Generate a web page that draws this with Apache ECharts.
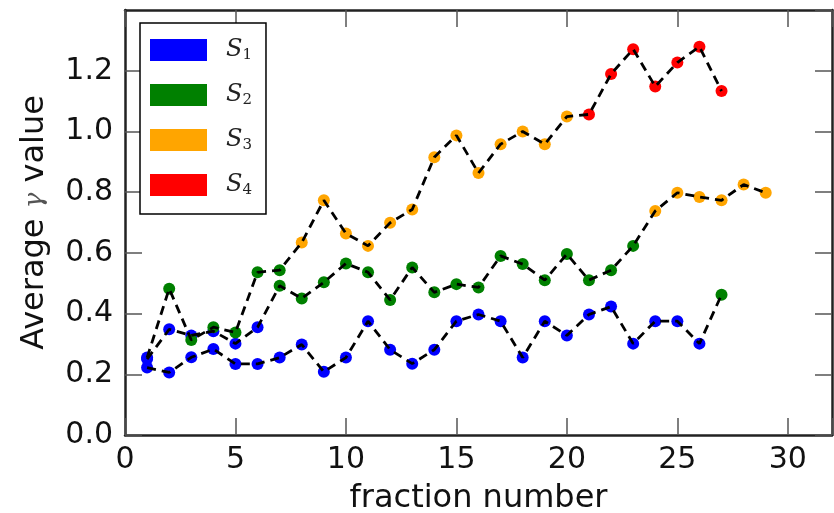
<!DOCTYPE html>
<html>
<head>
<meta charset="utf-8">
<script src="https://cdn.jsdelivr.net/npm/echarts@6/dist/echarts.min.js"></script>
<style>
  html, body { margin: 0; padding: 0; background: #fff; }
  #chart { width: 834px; height: 513px; }
</style>
</head>
<body>
<div id="chart"></div>
<script>
// fraction numbers along x
const fractions = [1, 2, 3, 4, 5, 6, 7, 8, 9, 10, 11, 12, 13, 14, 15, 16, 17, 18, 19, 20, 21, 22, 23, 24, 25, 26, 27, 28, 29];

// three runs, average gamma per fraction
const topRun = [0.255, 0.482, 0.313, 0.355, 0.338, 0.536, 0.543, 0.634, 0.773, 0.664, 0.623, 0.699, 0.743, 0.915, 0.987, 0.863, 0.958, 1.000, 0.958, 1.049, 1.056, 1.189, 1.271, 1.148, 1.227, 1.279, 1.133];
const midRun = [0.250, 0.348, 0.328, 0.342, 0.301, 0.355, 0.492, 0.450, 0.503, 0.565, 0.536, 0.445, 0.552, 0.470, 0.497, 0.486, 0.590, 0.563, 0.510, 0.596, 0.510, 0.543, 0.623, 0.738, 0.798, 0.784, 0.773, 0.825, 0.798];
const lowRun = [0.222, 0.206, 0.256, 0.283, 0.234, 0.234, 0.255, 0.298, 0.208, 0.255, 0.375, 0.281, 0.235, 0.281, 0.375, 0.397, 0.375, 0.255, 0.375, 0.328, 0.397, 0.423, 0.301, 0.375, 0.375, 0.301, 0.462];

// state (S1..S4) of every point
const topStates = [1, 2, 2, 2, 2, 2, 2, 3, 3, 3, 3, 3, 3, 3, 3, 3, 3, 3, 3, 3, 4, 4, 4, 4, 4, 4, 4];
const midStates = [1, 1, 1, 1, 1, 1, 2, 2, 2, 2, 2, 2, 2, 2, 2, 2, 2, 2, 2, 2, 2, 2, 2, 3, 3, 3, 3, 3, 3];
const lowStates = [1, 1, 1, 1, 1, 1, 1, 1, 1, 1, 1, 1, 1, 1, 1, 1, 1, 1, 1, 1, 1, 1, 1, 1, 1, 1, 2];

const stateNames = ["S1", "S2", "S3", "S4"];
const stateColors = ["#0000ff", "#008000", "#ffa500", "#ff0000"];

const xTicks = [0, 5, 10, 15, 20, 25, 30];

let chart = echarts.init(document.getElementById("chart"));

function toPoints(run) {
  return run.map((v, i) => [fractions[i], v]);
}

// group every point by its state
let runs = [[topRun, topStates], [midRun, midStates], [lowRun, lowStates]];
let scatterSeries = stateNames.map((name, k) => {
  let data = [];
  runs.forEach(([vals, states]) => {
    vals.forEach((v, i) => {
      if (states[i] === k + 1) data.push([fractions[i], v]);
    });
  });
  return {
    name: name,
    type: "scatter",
    data: data,
    symbolSize: 12,
    color: stateColors[k],
    itemStyle: { opacity: 1 },
    z: 2
  };
});

let lineSeries = [topRun, midRun, lowRun].map(run => ({
  type: "line",
  data: toPoints(run),
  showSymbol: false,
  symbol: "none",
  lineStyle: { color: "#000", width: 2.8, type: [9, 6] },
  z: 3,
  silent: true
}));

let tickStyle = { show: true, inside: true, length: 17, lineStyle: { color: "#555", width: 1.5 } };
let lineStyle = { show: true, onZero: false, lineStyle: { color: "#222", width: 2.5 } };

let option = {
  animation: false,
  backgroundColor: "#fff",
  grid: { left: 125, right: 2, top: 10, bottom: 78, outerBoundsMode: "none", containLabel: false },
  legend: {
    left: 140,
    top: 23,
    orient: "vertical",
    data: stateNames,
    icon: "rect",
    itemWidth: 57,
    itemHeight: 22,
    itemGap: 19,
    padding: [14, 14, 16, 10],
    borderColor: "#000",
    borderWidth: 1.5,
    backgroundColor: "#fff",
    formatter: name => "{s|S}{sub|" + name.slice(1) + "}",
    textStyle: {
      padding: [0, 0, 0, 14],
      rich: {
        s: { fontFamily: "DejaVu Serif", fontStyle: "italic", fontSize: 24, color: "#222", lineHeight: 22 },
        sub: { fontFamily: "DejaVu Serif", fontSize: 15, color: "#222", lineHeight: 22, padding: [11, 0, 0, 0] }
      }
    }
  },
  xAxis: [
    {
      type: "value",
      min: 0,
      max: 32,
      interval: 5,
      name: "fraction number",
      nameLocation: "middle",
      nameGap: 48,
      nameTextStyle: { fontFamily: "DejaVu Sans", fontSize: 32, color: "#111" },
      axisLine: lineStyle,
      axisTick: tickStyle,
      splitLine: { show: false },
      axisLabel: {
        fontFamily: "DejaVu Sans",
        fontSize: 30,
        color: "#111",
        margin: 10,
        formatter: v => (xTicks.indexOf(v) >= 0 ? String(v) : "")
      }
    },
    {
      type: "value",
      position: "top",
      min: 0,
      max: 32,
      interval: 5,
      axisLine: lineStyle,
      axisTick: tickStyle,
      axisLabel: { show: false },
      splitLine: { show: false }
    }
  ],
  yAxis: [
    {
      type: "value",
      min: 0,
      max: 1.4,
      interval: 0.2,
      name: "{a|Average }{g|γ}{a| value}",
      nameLocation: "middle",
      nameGap: 74,
      nameTextStyle: {
        rich: {
          a: { fontFamily: "DejaVu Sans", fontSize: 32, color: "#111" },
          g: { fontFamily: "DejaVu Serif", fontStyle: "italic", fontSize: 26, color: "#555" }
        }
      },
      axisLine: lineStyle,
      axisTick: tickStyle,
      splitLine: { show: false },
      axisLabel: {
        fontFamily: "DejaVu Sans",
        fontSize: 30,
        color: "#111",
        margin: 12,
        showMaxLabel: false,
        formatter: v => v.toFixed(1)
      }
    },
    {
      type: "value",
      position: "right",
      min: 0,
      max: 1.4,
      interval: 0.2,
      axisLine: lineStyle,
      axisTick: tickStyle,
      axisLabel: { show: false },
      splitLine: { show: false }
    }
  ],
  series: scatterSeries.concat(lineSeries)
};

chart.setOption(option);
</script>
</body>
</html>
